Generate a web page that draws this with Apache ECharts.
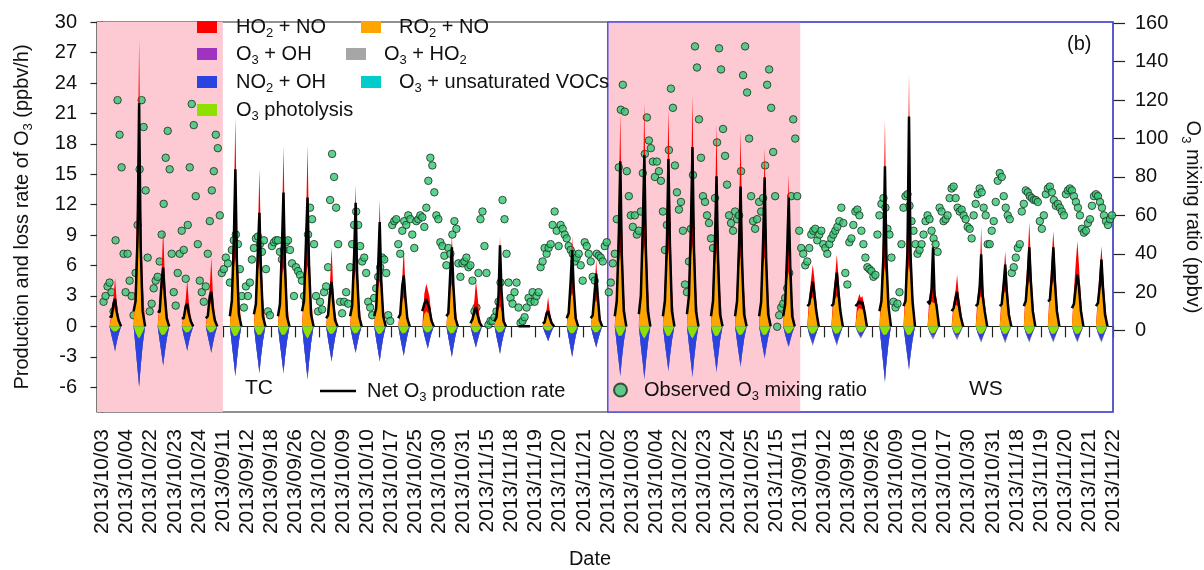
<!DOCTYPE html>
<html>
<head>
<meta charset="utf-8">
<script src="https://cdn.jsdelivr.net/npm/echarts@6/dist/echarts.min.js"></script>
<style>
html, body { margin: 0; padding: 0; background: #fff; }
#chart { width: 1204px; height: 570px; }
</style>
</head>
<body>
<div id="chart"></div>
<script>
// day boundary labels (one tick per day start, last one closes the axis)
const dateLabels = [
  '2013/10/03', '2013/10/04', '2013/10/22', '2013/10/23', '2013/10/24',
  '2013/09/11', '2013/09/12', '2013/09/18', '2013/09/26', '2013/10/02', '2013/10/09',
  '2013/10/10', '2013/10/17', '2013/10/25', '2013/10/30', '2013/10/31', '2013/11/15',
  '2013/11/18', '2013/11/19', '2013/11/20', '2013/11/21',
  '2013/10/02', '2013/10/03', '2013/10/04', '2013/10/22', '2013/10/23', '2013/10/24',
  '2013/10/25', '2013/11/15',
  '2013/09/11', '2013/09/12', '2013/09/18', '2013/09/26', '2013/10/09', '2013/10/10',
  '2013/10/17', '2013/10/30', '2013/10/31', '2013/11/18', '2013/11/19', '2013/11/20',
  '2013/11/21', '2013/11/22'
];
const rateTicks = [-6, -3, 0, 3, 6, 9, 12, 15, 18, 21, 24, 27, 30];
const o3Ticks = [0, 20, 40, 60, 80, 100, 120, 140, 160];

// pink periods and the blue framed (WS) part, in days
const pinkPeriods = [[-0.23, 5], [21, 29]];
const wsPeriod = [21, 42];

// hours of day of the samples
const dayStart = 7, dayEnd = 18.5;          // rates are zero outside these
const rateHours = [9, 11, 12.5, 14, 16];
const netHours = [7, 9, 11, 12.5, 14, 16, 18.5];
const o3Hours = [1, 3, 5, 7, 9, 11, 13, 15, 17, 19, 21, 23];

// production terms (ppbv/h), one row per day
const ro2No = [
  [0.9,1.5,1.8,1.4,0.7], [4.5,9.0,10.8,8.5,3.5], [2.0,3.4,4.0,3.2,1.5], [0.9,1.6,1.9,1.5,0.7], [1.2,2.1,2.5,2.0,0.9],
  [3.2,5.8,6.8,5.4,2.5], [3.0,5.4,6.3,5.0,2.3], [2.8,5.0,5.8,4.6,2.1], [2.9,5.1,6.0,4.8,2.2], [1.6,2.8,3.3,2.6,1.2],
  [2.6,4.7,5.5,4.4,2.0], [2.2,3.8,4.5,3.6,1.6], [1.4,2.5,2.9,2.3,1.0], [1.2,1.5,1.4,1.2,0.5], [2.0,3.6,4.2,3.3,1.5],
  [0.6,1.1,1.3,1.0,0.5], [1.0,1.7,2.0,1.6,0.7], [0,0,0,0,0], [0.6,1.0,1.2,0.9,0.4], [1.6,2.8,3.3,2.6,1.2],
  [1.2,2.2,2.6,2.1,0.9],
  [3.5,6.2,7.3,5.8,2.7], [3.9,6.9,8.1,6.4,3.0], [3.6,6.4,7.5,6.0,2.8], [3.9,6.9,8.1,6.4,3.0], [3.5,6.3,7.4,5.9,2.7],
  [3.4,6.0,7.0,5.6,2.6], [3.3,5.9,6.9,5.5,2.5], [2.6,4.6,5.4,4.3,2.0],
  [2.0,2.7,2.9,2.6,1.6], [2.0,2.7,3.0,2.7,1.6], [1.5,1.8,1.7,1.7,1.2], [2.8,5.0,5.9,4.7,2.2], [2.9,5.1,6.0,4.8,2.2],
  [2.0,2.4,2.5,2.3,1.8], [1.6,2.1,2.2,2.0,1.3], [2.0,2.8,3.0,2.7,1.6], [2.2,3.2,3.5,3.1,1.7], [2.8,4.0,4.5,3.8,2.0],
  [2.8,4.0,4.5,3.8,2.0], [2.8,4.0,4.5,3.8,2.0], [2.5,3.6,4.0,3.4,1.8]
];
const ho2No = [
  [0.4,1.4,3.0,1.2,0.2], [1.5,5.0,17.5,4.5,1.0], [0.6,2.1,5.7,1.8,0.3], [0.3,1.1,2.7,1.0,0.2], [0.4,1.7,4.3,1.4,0.2],
  [1.3,5.7,13.8,4.6,0.7], [1.0,3.6,9.2,3.3,0.6], [1.0,4.5,12.0,4.2,0.7], [1.1,4.9,11.9,4.2,0.8], [0.4,1.6,4.5,1.4,0.3],
  [0.7,3.3,8.5,2.6,0.5], [0.7,3.2,8.0,2.9,0.5], [0.5,2.2,4.9,1.9,0.4], [2.0,2.7,2.2,1.8,0.7], [0.6,1.8,4.9,1.7,0.4],
  [0.3,1.5,3.2,2.1,0.5], [0.4,2.2,6.9,2.7,0.4], [0,0,0,0,0], [0.2,0.7,1.7,0.7,0.2], [0.5,2.4,5.6,2.1,0.4],
  [0.4,1.9,4.0,1.7,0.4],
  [1.2,5.8,13.7,4.7,0.8], [1.4,6.1,14.0,4.6,0.9], [1.2,5.6,14.0,7.0,1.0], [1.4,6.1,14.7,4.6,0.9], [1.2,5.2,12.5,4.1,0.8],
  [1.2,5.0,12.3,4.4,0.9], [1.1,4.6,10.7,4.0,0.8], [1.0,4.2,9.6,3.7,0.8],
  [1.0,2.1,3.2,2.2,1.0], [1.0,2.5,4.1,2.4,1.0], [1.0,1.4,1.1,1.3,0.8], [1.4,5.0,14.5,4.3,1.3], [1.4,5.9,19.0,5.2,1.8],
  [1.0,1.8,6.3,1.5,1.0], [0.8,1.5,2.9,1.2,0.6], [1.0,2.0,6.8,1.7,0.8], [1.0,2.0,3.9,1.7,0.7], [1.0,3.0,5.8,2.8,0.8],
  [1.0,3.0,4.9,2.8,0.8], [0.7,2.5,3.9,2.3,0.8], [0.7,2.3,3.9,2.0,0.7]
];

// loss terms (ppbv/h, negative)
const o3Photolysis = [
  [-0.3,-0.5,-0.6,-0.48,-0.27], [-0.6,-1.0,-1.2,-0.95,-0.55], [-0.5,-0.85,-1.0,-0.8,-0.45], [-0.35,-0.6,-0.7,-0.55,-0.3], [-0.35,-0.6,-0.7,-0.55,-0.3],
  [-0.55,-0.95,-1.1,-0.9,-0.5], [-0.5,-0.85,-1.0,-0.8,-0.45], [-0.5,-0.85,-1.0,-0.8,-0.45], [-0.6,-1.0,-1.2,-0.95,-0.55], [-0.45,-0.75,-0.9,-0.7,-0.4],
  [-0.4,-0.7,-0.8,-0.65,-0.35], [-0.45,-0.75,-0.9,-0.7,-0.4], [-0.4,-0.7,-0.8,-0.65,-0.35], [-0.35,-0.6,-0.7,-0.55,-0.3], [-0.4,-0.7,-0.8,-0.65,-0.35],
  [-0.35,-0.6,-0.7,-0.55,-0.3], [-0.35,-0.6,-0.7,-0.55,-0.3], [0,0,0,0,0], [-0.25,-0.42,-0.5,-0.4,-0.22], [-0.4,-0.7,-0.8,-0.65,-0.35],
  [-0.35,-0.6,-0.7,-0.55,-0.3],
  [-0.55,-0.95,-1.1,-0.9,-0.5], [-0.6,-1.0,-1.2,-0.95,-0.55], [-0.55,-0.95,-1.1,-0.9,-0.5], [-0.6,-1.0,-1.2,-0.95,-0.55], [-0.55,-0.95,-1.1,-0.9,-0.5],
  [-0.5,-0.85,-1.0,-0.8,-0.45], [-0.5,-0.85,-1.0,-0.8,-0.45], [-0.4,-0.7,-0.8,-0.65,-0.35],
  [-0.45,-0.72,-0.85,-0.68,-0.4], [-0.45,-0.72,-0.85,-0.68,-0.4], [-0.35,-0.6,-0.7,-0.55,-0.3], [-0.5,-0.85,-1.0,-0.8,-0.45], [-0.5,-0.85,-1.0,-0.8,-0.45],
  [-0.4,-0.7,-0.8,-0.65,-0.35], [-0.4,-0.7,-0.8,-0.65,-0.35], [-0.45,-0.75,-0.9,-0.7,-0.4], [-0.45,-0.75,-0.9,-0.7,-0.4], [-0.45,-0.75,-0.9,-0.7,-0.4],
  [-0.45,-0.75,-0.9,-0.7,-0.4], [-0.45,-0.75,-0.9,-0.7,-0.4], [-0.45,-0.75,-0.9,-0.7,-0.4]
];
const no2Oh = [
  [-0.6,-1.2,-1.75,-1.1,-0.5], [-1.5,-3.2,-4.6,-3.0,-1.3], [-0.9,-1.9,-2.75,-1.8,-0.8], [-0.55,-1.1,-1.6,-1.0,-0.45], [-0.6,-1.25,-1.8,-1.15,-0.5],
  [-1.2,-2.5,-3.65,-2.4,-1.0], [-1.2,-2.4,-3.45,-2.2,-1.0], [-1.2,-2.4,-3.45,-2.2,-1.0], [-1.3,-2.7,-3.85,-2.5,-1.1], [-0.85,-1.7,-2.45,-1.6,-0.7],
  [-0.6,-1.2,-1.7,-1.1,-0.5], [-0.85,-1.7,-2.45,-1.6,-0.7], [-0.7,-1.4,-2.0,-1.3,-0.6], [-0.5,-1.0,-1.4,-0.9,-0.4], [-0.7,-1.45,-2.1,-1.35,-0.6],
  [-0.45,-0.9,-1.3,-0.85,-0.4], [-0.65,-1.3,-1.9,-1.2,-0.55], [0,0,0,0,0], [-0.3,-0.6,-0.9,-0.6,-0.25], [-0.7,-1.45,-2.1,-1.35,-0.6],
  [-0.45,-0.9,-1.3,-0.85,-0.4],
  [-1.2,-2.5,-3.6,-2.3,-1.0], [-1.3,-2.6,-3.8,-2.5,-1.1], [-1.1,-2.2,-3.1,-2.0,-0.9], [-1.2,-2.5,-3.6,-2.3,-1.0], [-1.1,-2.2,-3.2,-2.1,-0.9],
  [-1.0,-2.0,-2.8,-1.8,-0.8], [-0.7,-1.4,-2.0,-1.3,-0.6], [-0.4,-0.8,-1.1,-0.7,-0.3],
  [-0.3,-0.55,-0.8,-0.5,-0.25], [-0.3,-0.55,-0.8,-0.5,-0.25], [-0.1,-0.2,-0.3,-0.2,-0.1], [-1.4,-2.9,-4.2,-2.7,-1.2], [-1.0,-2.1,-3.0,-1.9,-0.9],
  [-0.1,-0.15,-0.2,-0.15,-0.1], [-0.1,-0.18,-0.25,-0.15,-0.1], [-0.15,-0.3,-0.4,-0.28,-0.12], [-0.15,-0.32,-0.45,-0.3,-0.12], [-0.15,-0.3,-0.4,-0.28,-0.12],
  [-0.15,-0.3,-0.4,-0.28,-0.12], [-0.15,-0.3,-0.4,-0.28,-0.12], [-0.15,-0.3,-0.4,-0.28,-0.12]
];
const o3Oh = [
  [-0.02,-0.05,-0.1,-0.05,-0.02], [-0.03,-0.1,-0.15,-0.08,-0.02], [-0.02,-0.06,-0.1,-0.06,-0.02], [-0.02,-0.05,-0.1,-0.05,-0.02], [-0.02,-0.05,-0.1,-0.05,-0.02],
  [-0.03,-0.08,-0.15,-0.08,-0.02], [-0.03,-0.08,-0.15,-0.08,-0.02], [-0.03,-0.08,-0.15,-0.08,-0.02], [-0.03,-0.08,-0.15,-0.08,-0.02], [-0.02,-0.06,-0.1,-0.06,-0.02],
  [-0.02,-0.06,-0.1,-0.06,-0.02], [-0.02,-0.06,-0.1,-0.06,-0.02], [-0.02,-0.05,-0.1,-0.05,-0.02], [-0.02,-0.05,-0.08,-0.05,-0.02], [-0.02,-0.05,-0.1,-0.05,-0.02],
  [-0.02,-0.05,-0.08,-0.05,-0.02], [-0.02,-0.05,-0.1,-0.05,-0.02], [0,0,0,0,0], [-0.01,-0.03,-0.06,-0.03,-0.01], [-0.02,-0.05,-0.1,-0.05,-0.02],
  [-0.02,-0.05,-0.08,-0.05,-0.02],
  [-0.04,-0.1,-0.2,-0.1,-0.03], [-0.04,-0.1,-0.2,-0.1,-0.03], [-0.04,-0.1,-0.2,-0.1,-0.03], [-0.04,-0.1,-0.2,-0.1,-0.03], [-0.04,-0.1,-0.2,-0.1,-0.03],
  [-0.04,-0.1,-0.18,-0.1,-0.03], [-0.03,-0.08,-0.15,-0.08,-0.02], [-0.03,-0.08,-0.12,-0.06,-0.02],
  [-0.05,-0.1,-0.15,-0.1,-0.05], [-0.05,-0.1,-0.15,-0.1,-0.05], [-0.04,-0.08,-0.1,-0.08,-0.04], [-0.03,-0.1,-0.2,-0.1,-0.03], [-0.03,-0.1,-0.2,-0.1,-0.03],
  [-0.05,-0.1,-0.15,-0.1,-0.05], [-0.05,-0.1,-0.15,-0.1,-0.05], [-0.05,-0.1,-0.18,-0.1,-0.05], [-0.05,-0.1,-0.18,-0.1,-0.05], [-0.05,-0.1,-0.18,-0.1,-0.05],
  [-0.05,-0.1,-0.18,-0.1,-0.05], [-0.05,-0.1,-0.18,-0.1,-0.05], [-0.05,-0.1,-0.18,-0.1,-0.05]
];
const o3Ho2 = [
  [0,-0.02,-0.04,-0.02,0], [0,-0.03,-0.05,-0.03,0], [0,-0.02,-0.05,-0.02,0], [0,-0.02,-0.03,-0.02,0], [0,-0.02,-0.03,-0.02,0],
  [0,-0.03,-0.05,-0.03,0], [0,-0.03,-0.05,-0.03,0], [0,-0.03,-0.05,-0.03,0], [0,-0.03,-0.05,-0.03,0], [0,-0.02,-0.04,-0.02,0],
  [0,-0.02,-0.04,-0.02,0], [0,-0.02,-0.04,-0.02,0], [0,-0.02,-0.04,-0.02,0], [0,-0.02,-0.03,-0.02,0], [0,-0.02,-0.04,-0.02,0],
  [0,-0.02,-0.03,-0.02,0], [0,-0.02,-0.04,-0.02,0], [0,0,0,0,0], [0,-0.01,-0.02,-0.01,0], [0,-0.02,-0.04,-0.02,0],
  [0,-0.02,-0.03,-0.02,0],
  [0,-0.03,-0.05,-0.03,0], [0,-0.03,-0.05,-0.03,0], [0,-0.03,-0.05,-0.03,0], [0,-0.03,-0.05,-0.03,0], [0,-0.03,-0.05,-0.03,0],
  [0,-0.03,-0.05,-0.03,0], [0,-0.03,-0.05,-0.03,0], [0,-0.02,-0.04,-0.02,0],
  [-0.05,-0.08,-0.12,-0.08,-0.04], [-0.05,-0.08,-0.12,-0.08,-0.04], [-0.04,-0.06,-0.08,-0.06,-0.04], [-0.04,-0.08,-0.12,-0.08,-0.04], [-0.04,-0.08,-0.12,-0.08,-0.04],
  [-0.05,-0.08,-0.12,-0.08,-0.04], [-0.05,-0.08,-0.12,-0.08,-0.04], [-0.05,-0.08,-0.12,-0.08,-0.04], [-0.05,-0.08,-0.12,-0.08,-0.04], [-0.05,-0.08,-0.12,-0.08,-0.04],
  [-0.05,-0.08,-0.12,-0.08,-0.04], [-0.05,-0.08,-0.12,-0.08,-0.04], [-0.05,-0.08,-0.12,-0.08,-0.04]
];
const o3Voc = [
  [0,-0.01,-0.02,-0.01,0], [0,-0.01,-0.02,-0.01,0], [0,-0.01,-0.02,-0.01,0], [0,-0.01,-0.02,-0.01,0], [0,-0.01,-0.02,-0.01,0],
  [0,-0.01,-0.02,-0.01,0], [0,-0.01,-0.02,-0.01,0], [0,-0.01,-0.02,-0.01,0], [0,-0.01,-0.02,-0.01,0], [0,-0.01,-0.02,-0.01,0],
  [0,-0.01,-0.02,-0.01,0], [0,-0.01,-0.02,-0.01,0], [0,-0.01,-0.02,-0.01,0], [0,-0.01,-0.02,-0.01,0], [0,-0.01,-0.02,-0.01,0],
  [0,-0.01,-0.02,-0.01,0], [0,-0.01,-0.02,-0.01,0], [0,0,0,0,0], [0,-0.01,-0.02,-0.01,0], [0,-0.01,-0.02,-0.01,0],
  [0,-0.01,-0.02,-0.01,0],
  [0,-0.01,-0.02,-0.01,0], [0,-0.01,-0.02,-0.01,0], [0,-0.01,-0.02,-0.01,0], [0,-0.01,-0.02,-0.01,0], [0,-0.01,-0.02,-0.01,0],
  [0,-0.01,-0.02,-0.01,0], [0,-0.01,-0.02,-0.01,0], [0,-0.01,-0.02,-0.01,0],
  [0,-0.01,-0.02,-0.01,0], [0,-0.01,-0.02,-0.01,0], [0,-0.01,-0.02,-0.01,0], [0,-0.01,-0.02,-0.01,0], [0,-0.01,-0.02,-0.01,0],
  [0,-0.01,-0.02,-0.01,0], [0,-0.01,-0.02,-0.01,0], [0,-0.01,-0.02,-0.01,0], [0,-0.01,-0.02,-0.01,0], [0,-0.01,-0.02,-0.01,0],
  [0,-0.01,-0.02,-0.01,0], [0,-0.01,-0.02,-0.01,0], [0,-0.01,-0.02,-0.01,0]
];

// net O3 production rate (ppbv/h) at netHours
const netRate = [
  [1.0,0.9,2.3,2.7,1.5,0.6,0], [1.5,2.5,9.0,22.0,8.0,1.5,0], [1.5,1.4,4.5,5.8,3.2,0.8,0], [0.8,0.8,2.0,2.2,1.3,0.5,0], [0.8,1.0,3.0,3.4,1.8,0.6,0],
  [1.0,2.5,8.5,15.5,6.5,1.2,0], [1.2,2.2,7.5,11.2,5.5,1.0,0], [1.0,2.2,8.0,13.2,6.0,1.0,0], [1.5,2.5,8.5,12.7,6.0,1.2,0], [0.8,1.1,3.5,4.4,2.5,0.6,0],
  [1.0,2.0,7.0,12.2,5.0,1.0,0], [1.0,1.8,6.0,10.3,4.5,1.0,0], [0.8,1.2,4.0,5.0,3.0,0.8,0], [1.5,2.2,2.7,2.2,1.8,0.6,0], [1.0,1.3,5.5,7.8,4.0,0.8,0],
  [0.3,0.7,1.5,1.9,1.2,0.4,0], [0.5,0.9,3.0,8.0,3.5,0.5,0], [0,0,0,0,0,0,0], [0.3,0.4,1.3,1.5,0.9,0.3,0], [0.8,1.3,4.5,7.5,3.8,0.8,0],
  [0.8,1.1,3.5,5.2,3.0,0.6,0],
  [1.0,2.5,9.0,16.3,7.0,1.5,0], [1.2,3.0,10.0,16.9,7.5,1.5,0], [1.0,2.5,8.0,16.5,8.0,1.5,0], [1.2,3.0,10.0,17.7,7.5,1.5,0], [1.0,2.5,8.5,14.8,6.5,1.2,0],
  [1.0,2.5,8.0,13.8,6.0,1.2,0], [1.0,2.4,8.5,14.7,6.5,1.2,0], [1.0,2.2,7.5,12.7,6.0,1.0,0],
  [2.0,2.2,3.5,4.4,3.2,1.5,0], [2.0,2.2,4.0,5.3,3.5,1.5,0], [2.0,2.2,2.5,2.2,2.4,1.5,0], [1.5,2.5,7.0,15.8,6.5,2.0,0], [2.0,2.5,7.5,20.7,7.0,2.5,0],
  [2.5,2.2,3.6,7.8,3.0,2.0,0], [1.5,1.8,2.8,3.4,2.2,1.0,0], [2.0,2.2,3.8,7.1,3.0,1.5,0], [2.0,2.2,4.2,6.1,3.5,1.2,0], [2.0,2.5,5.0,7.8,4.5,1.5,0],
  [2.5,2.6,5.0,7.8,4.5,1.5,0], [1.8,2.2,4.0,5.1,4.0,1.5,0], [2.0,2.3,4.2,6.6,3.8,1.2,0]
];

// observed O3 mixing ratio (ppbv) at o3Hours
const o3Obs = [
  [15,18,23,25,20,10,47,120,102,85,40,20], [40,26,18,8,30,55,84,120,106,73,38,10], [14,22,26,28,36,50,66,90,104,84,40,20],
  [13,30,40,52,42,27,55,85,118,107,70,45], [26,20,15,23,40,57,73,83,102,95,60,30],
  [32,38,35,25,42,47,50,45,32,18,12,23], [18,25,37,43,48,49,45,41,47,32,10,8], [44,46,47,47,41,37,42,46,47,42,35,18],
  [33,31,29,26,18,15,50,64,58,45,18,10], [15,11,20,23,33,68,92,80,64,45,15,9], [15,20,14,33,45,55,62,55,44,36,38,30],
  [15,12,8,17,22,28,33,38,37,30,8,5], [55,57,58,45,40,52,57,55,60,58,50,43], [57,58,60,59,54,64,78,90,86,72,60,58],
  [46,44,39,34,43,40,50,57,53,35,28,35], [36,38,33,34,26,10,12,30,58,62,44,30], [3,5,5,7,10,15,25,68,58,40,25,17],
  [14,20,25,12,4,5,7,12,17,15,20,15], [18,20,33,36,43,40,43,45,55,62,52,44], [55,53,50,48,44,42,40,36,38,40,34,26],
  [46,44,40,36,28,26,40,39,38,36,44,46],
  [20,25,35,40,58,85,115,128,114,83,70,60], [54,60,50,52,62,82,92,111,99,95,88,80], [88,83,78,62,42,55,94,126,116,86,72,63],
  [67,52,24,20,36,53,81,148,137,110,90,70], [67,60,56,48,43,69,98,147,136,105,91,76], [60,56,52,62,58,60,83,133,148,124,100,70],
  [57,53,58,67,62,69,86,128,136,116,93,70], [2,8,12,14,17,22,30,70,110,100,70,52],
  [43,40,34,36,43,50,52,53,47,50,52,45], [43,40,45,48,50,52,54,57,64,56,30,24], [46,48,55,62,63,60,52,45,38,33,32,31],
  [28,29,50,60,66,69,64,53,50,38,15,12], [14,20,45,64,70,71,65,57,52,45,40,42], [45,50,57,60,58,52,48,45,41,64,62,57],
  [58,60,69,74,75,69,64,62,63,60,58,54], [53,48,60,66,71,74,72,64,60,45,45,52], [57,67,78,82,80,70,64,60,58,30,33,38],
  [43,45,62,66,73,72,70,69,68,68,67,57], [53,60,71,74,75,72,68,65,66,64,62,60], [71,73,74,73,70,67,64,60,53,51,52,56],
  [58,65,70,71,70,67,64,60,57,55,58,60]
];

const FONT = '"Liberation Sans", Arial, sans-serif';
const TXT = '#111';
const richSub = {
  s: { fontSize: 13, lineHeight: 12, verticalAlign: 'bottom', fontFamily: FONT, color: TXT }
};
// "O3" -> O{s|3}
function sub(s) {
  return s.replace(/([A-Za-z])(\d)/g, '$1{s|$2}');
}

// element-wise sums, so the bands can be painted over each other
function addRows(...lists) {
  return lists[0].map((row, d) => row.map((v, i) => {
    let t = 0;
    lists.forEach(l => { t += l[d][i]; });
    return +t.toFixed(3);
  }));
}
function areaData(rows) {
  const pts = [];
  rows.forEach((row, d) => {
    pts.push([d + dayStart / 24, 0]);
    row.forEach((v, i) => pts.push([d + rateHours[i] / 24, v]));
    pts.push([d + dayEnd / 24, 0]);
  });
  return pts;
}
function netData(rows) {
  const pts = [];
  rows.forEach((row, d) => {
    row.forEach((v, i) => pts.push([d + netHours[i] / 24, v]));
    pts.push([d + 0.9, '-']);
  });
  return pts;
}
function obsData(rows) {
  const pts = [];
  rows.forEach((row, d) => {
    row.forEach((v, i) => pts.push([d + o3Hours[i] / 24, v]));
  });
  return pts;
}

function band(name, color, data, extra) {
  return Object.assign({
    name: name,
    type: 'line',
    data: data,
    symbol: 'none',
    lineStyle: { width: 0 },
    itemStyle: { color: color },
    areaStyle: { color: color, opacity: 1 },
    silent: true
  }, extra || {});
}

function legendAt(name, left, top, padLeft, extra) {
  return Object.assign({
    data: [name],
    left: left,
    top: top,
    padding: 0,
    itemWidth: 20,
    itemHeight: 12,
    icon: 'rect',
    selectedMode: false,
    formatter: sub,
    textStyle: { fontSize: 20, color: TXT, fontFamily: FONT, lineHeight: 26, padding: [0, 0, 0, padLeft], rich: richSub }
  }, extra || {});
}

const chart = echarts.init(document.getElementById('chart'));
const tickDays = dateLabels.map((d, i) => i);

const option = {
  animation: false,
  textStyle: { fontFamily: FONT },
  grid: {
    left: 97, right: 91, top: 22, bottom: 158,
    outerBoundsMode: 'none',
    show: true, borderColor: '#222', borderWidth: 1.2
  },
  xAxis: {
    type: 'value',
    min: -0.23,
    max: 42,
    name: 'Date',
    nameLocation: 'middle',
    nameGap: 137,
    nameTextStyle: { fontSize: 20, color: TXT, padding: [0, 30, 0, 0] },
    axisLine: { show: true, lineStyle: { color: '#222', width: 1.2 } },
    axisTick: { show: true, customValues: tickDays, length: 11, lineStyle: { color: '#222', width: 1.2 } },
    axisLabel: {
      customValues: tickDays,
      rotate: 90,
      margin: 17,
      fontSize: 21,
      color: TXT,
      formatter: v => dateLabels[v]
    },
    splitLine: { show: false }
  },
  yAxis: [
    {
      type: 'value',
      position: 'left',
      min: -8.45,
      max: 30.03,
      name: sub('Production and loss rate of O3 (ppbv/h)'),
      nameLocation: 'middle',
      nameRotate: 90,
      nameGap: 62,
      nameTextStyle: { fontSize: 20, color: TXT, lineHeight: 26, rich: richSub },
      axisLine: { show: true, lineStyle: { color: '#222', width: 1.2 } },
      axisTick: { show: true, customValues: rateTicks, length: 12, lineStyle: { color: '#222', width: 1.2 } },
      axisLabel: { customValues: rateTicks, margin: 20, fontSize: 20, color: TXT },
      splitLine: { show: false }
    },
    {
      type: 'value',
      position: 'right',
      min: -42.4,
      max: 160.7,
      name: sub('O3 mixing ratio (ppbv)'),
      nameLocation: 'middle',
      nameRotate: -90,
      nameGap: 64,
      nameTextStyle: { fontSize: 20, color: TXT, lineHeight: 26, rich: richSub },
      axisLine: { show: false },
      axisTick: { show: true, customValues: o3Ticks, length: 12, lineStyle: { color: '#222', width: 1.2 } },
      axisLabel: { customValues: o3Ticks, margin: 22, fontSize: 20, color: TXT },
      splitLine: { show: false }
    }
  ],
  legend: [
    legendAt('HO2 + NO', 197, 14, 14),
    legendAt('O3 + OH', 197, 41, 14),
    legendAt('NO2 + OH', 197, 69, 14),
    legendAt('O3 photolysis', 197, 97, 14),
    legendAt('RO2 + NO', 361, 14, 13),
    legendAt('O3 + HO2', 346, 41, 13),
    legendAt('O3 + unsaturated VOCs', 361, 69, 13),
    legendAt('Net O3 production rate', 320, 378, 6, { itemWidth: 36, itemHeight: 2.5 }),
    legendAt('Observed O3 mixing ratio', 613, 377, 12, { icon: 'circle', itemWidth: 13, itemHeight: 13 })
  ],
  graphic: [
    { type: 'text', left: 245, top: 378, style: { text: 'TC', fontSize: 21, fill: TXT, fontFamily: FONT } },
    { type: 'text', left: 969, top: 379, style: { text: 'WS', fontSize: 21, fill: TXT, fontFamily: FONT } },
    { type: 'text', left: 1067, top: 34, style: { text: '(b)', fontSize: 20, fill: TXT, fontFamily: FONT } }
  ],
  series: [
    band('HO2 + NO', '#ff0000', areaData(addRows(ro2No, ho2No)), {
      markArea: {
        silent: true,
        label: { show: false },
        data: [
          [{ xAxis: pinkPeriods[0][0], itemStyle: { color: '#fdc9d3' } }, { xAxis: pinkPeriods[0][1] }],
          [{ xAxis: pinkPeriods[1][0], itemStyle: { color: '#fdc9d3' } }, { xAxis: pinkPeriods[1][1] }],
          [{ xAxis: wsPeriod[0], itemStyle: { color: 'rgba(0,0,0,0)', borderColor: '#5252e8', borderWidth: 1.5 } }, { xAxis: wsPeriod[1] }]
        ]
      }
    }),
    band('RO2 + NO', '#ffa500', areaData(ro2No)),
    band('O3 + unsaturated VOCs', '#00cccc', areaData(addRows(o3Photolysis, no2Oh, o3Oh, o3Ho2, o3Voc))),
    band('O3 + HO2', '#a6a6a6', areaData(addRows(o3Photolysis, no2Oh, o3Oh, o3Ho2))),
    band('O3 + OH', '#a032c2', areaData(addRows(o3Photolysis, no2Oh, o3Oh))),
    band('NO2 + OH', '#2a44e0', areaData(addRows(o3Photolysis, no2Oh))),
    band('O3 photolysis', '#8ee000', areaData(o3Photolysis)),
    {
      name: 'Net O3 production rate',
      type: 'line',
      data: netData(netRate),
      symbol: 'none',
      connectNulls: false,
      itemStyle: { color: '#000' },
      lineStyle: { color: '#000', width: 2.5 },
      silent: true
    },
    {
      name: 'Observed O3 mixing ratio',
      type: 'scatter',
      yAxisIndex: 1,
      data: obsData(o3Obs),
      symbolSize: 7.5,
      itemStyle: { color: '#34c874', borderColor: '#1e2a22', borderWidth: 1 },
      silent: true
    }
  ]
};
chart.setOption(option);
</script>
</body>
</html>
